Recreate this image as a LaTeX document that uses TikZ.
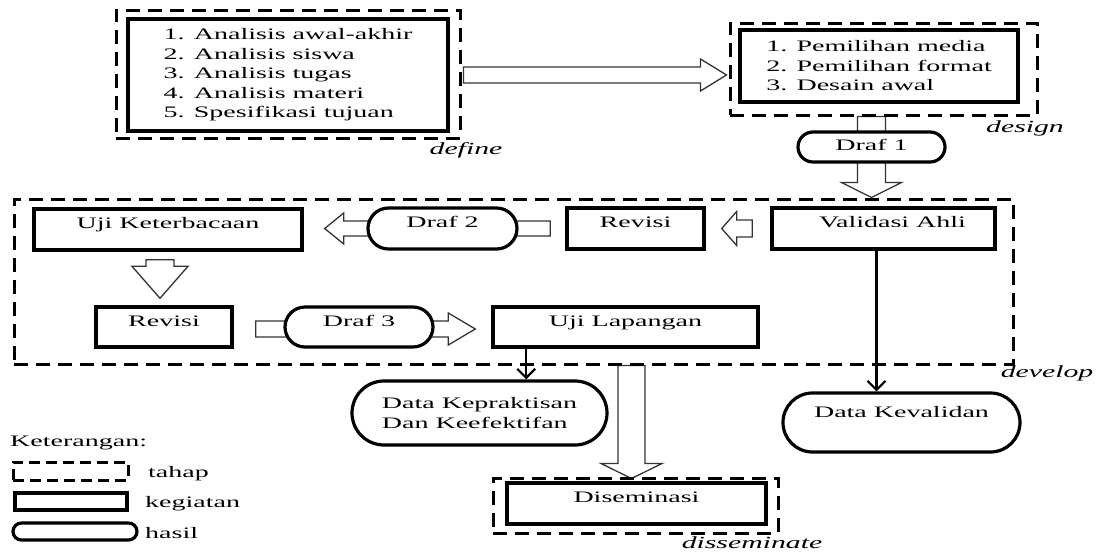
\documentclass[tikz,border=0pt]{standalone}
\usepackage{fontspec}
\setmainfont{Liberation Serif}[FakeStretch=1.75]
\usetikzlibrary{calc,shapes.misc,arrows.meta,backgrounds}

\newcommand\blockarrow[5]{%
  \coordinate (ba-h) at ($(#2)!#5!(#1)$);
  \draw[hol] ($(#1)!#3!90:(#2)$) -- ($(ba-h)!#3!90:(#2)$) -- ($(ba-h)!#4!90:(#2)$) -- (#2)
    -- ($(ba-h)!#4!-90:(#2)$) -- ($(ba-h)!#3!-90:(#2)$) -- ($(#1)!#3!-90:(#2)$) -- cycle;}

\begin{document}
\begin{tikzpicture}[x=1pt,y=-1pt,
  every node/.style={font=\fontsize{16}{19.5}\selectfont, inner sep=0pt},
  stage/.style={draw, line width=3pt, dash pattern=on 14pt off 8pt},
  act/.style={draw, line width=3.4pt},
  pill/.style={draw, rounded rectangle, line width=3.2pt, fill=white},
  txtup/.style={text height=11pt, text depth=#1}, txtup/.default=13pt,
  hol/.style={draw=black!80, line width=1.3pt, fill=white},
  conn/.style={line width=2.2pt, -{Straight Barb[length=9pt,width=18pt]}},
  tag/.style={font=\fontsize{17}{20}\selectfont\itshape}
]
\useasboundingbox (0,0) rectangle (1098,552);

% define
\node[stage, minimum width=344pt, minimum height=128pt] (defout) at (288,74) {};
\node[act, minimum width=320pt, minimum height=112pt, align=left] (defin) at (288,75)
  {1. Analisis awal-akhir\\2. Analisis siswa\\3. Analisis tugas\\4. Analisis materi\\5. Spesifikasi tujuan};
\node[tag] (deflab) at (466,150) {define};

% design
\node[stage, minimum width=307pt, minimum height=92pt] (desout) at (883.5,69) {};
\node[act, minimum width=278pt, minimum height=72pt, align=left] (desin) at (879,66)
  {1. Pemilihan media\\2. Pemilihan format\\3. Desain awal};
\node[tag] (deslab) at (1025,128) {design};
\node[pill, minimum width=147pt, minimum height=30pt, txtup=5pt] (draf1) at (871.5,147) {Draf 1};

% develop
\node[stage, minimum width=999pt, minimum height=165pt] (devout) at (513.5,281.5) {};
\node[tag] (devlab) at (1047,373) {develop};
\node[act, minimum width=268pt, minimum height=41pt, txtup] (ujik) at (168,229.5) {Uji Keterbacaan};
\node[pill, minimum width=149pt, minimum height=41pt, txtup] (draf2) at (442.5,228.5) {Draf 2};
\node[act, minimum width=137pt, minimum height=41pt, txtup] (rev1) at (635.5,228.5) {Revisi};
\node[act, minimum width=223pt, minimum height=41pt, txtup] (valid) at (883.5,228.5) {\hspace*{18pt}Validasi Ahli};
\node[act, minimum width=136pt, minimum height=40pt, txtup] (rev2) at (164,327) {Revisi};
\node[pill, minimum width=148pt, minimum height=40pt, txtup] (draf3) at (359,327) {Draf 3};
\node[act, minimum width=265pt, minimum height=40pt, txtup] (ujil) at (625.5,327) {Uji Lapangan};

% results
\node[pill, minimum width=255pt, minimum height=64pt, align=left] (dkp) at (479.5,413)
  {Data Kepraktisan\\Dan Keefektifan};
\node[pill, minimum width=237pt, minimum height=59pt, txtup=21pt] (dkv) at (901.5,422.5) {Data Kevalidan};

% disseminate
\node[stage, minimum width=285pt, minimum height=55pt] (disout) at (635.5,505.5) {};
\node[act, minimum width=259pt, minimum height=41pt, txtup] (disin) at (636.5,503.5) {Diseminasi};
\node[tag] (dislab) at (752,543) {disseminate};

% legend
\node[anchor=west] (ket) at (10,443) {Keterangan:};
\node[stage, minimum width=115pt, minimum height=18pt, dash pattern=on 11pt off 6pt] (lg1) at (70.5,471) {};
\node[anchor=west] (lt1) at (148,474) {tahap};
\node[act, minimum width=112pt, minimum height=17pt] (lg2) at (71,501.5) {};
\node[anchor=west] (lt2) at (145,504) {kegiatan};
\node[pill, minimum width=124pt, minimum height=17pt] (lg3) at (75,531.5) {};
\node[anchor=west] (lt3) at (145,533) {hasil};

% block arrows
\begin{pgfonlayer}{background}
\coordinate (a1s) at ($(defout.east)+(2,1)$);
\coordinate (a1e) at ($(desout.west |- a1s)+(-2,0)$);
\blockarrow{a1s}{a1e}{8pt}{16pt}{26pt}
\coordinate (a2s) at (draf1 |- desout.south);
\coordinate (a2e) at (draf1 |- devout.north);
\blockarrow{a2s}{a2e}{14pt}{30pt}{15pt}
\coordinate (a3s) at ($(rev1.west)+(-15,0)$);
\coordinate (a3e) at ($(ujik.east |- a3s)+(21,0)$);
\blockarrow{a3s}{a3e}{7.5pt}{15.5pt}{19pt}
\coordinate (a4s) at ($(valid.west)+(-18,0)$);
\coordinate (a4e) at ($(rev1.east)+(16,0)$);
\blockarrow{a4s}{a4e}{8.5pt}{17pt}{15pt}
\coordinate (a5s) at ($(ujik.south)+(-8,8)$);
\coordinate (a5e) at ($(rev2.north -| a5s)+(0,-7)$);
\blockarrow{a5s}{a5e}{14pt}{28pt}{32pt}
\coordinate (a6s) at ($(rev2.east)+(22,2)$);
\coordinate (a6e) at ($(ujil.west |- a6s)+(-16,0)$);
\blockarrow{a6s}{a6e}{8pt}{16pt}{27pt}
\coordinate (a7e) at ($(disout.north)+(-4,2)$);
\coordinate (a7s) at (a7e |- devout.south);
\blockarrow{a7s}{a7e}{13.5pt}{30.5pt}{15pt}
\end{pgfonlayer}

% thin connectors
\coordinate (l1s) at ($(ujil.south west)!0.13!(ujil.south east)$);
\draw[conn] (l1s) -- (l1s |- dkp.north);
\coordinate (l2s) at ($(valid.south)+(-7,0)$);
\draw[conn] (l2s) -- (l2s |- dkv.north);
\end{tikzpicture}
\end{document}
